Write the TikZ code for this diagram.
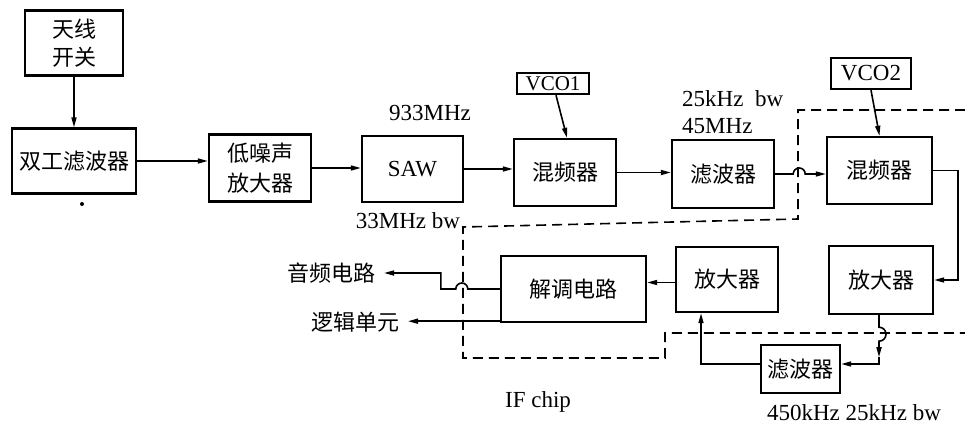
\documentclass[tikz,border=0pt]{standalone}
\usepackage{fontspec}
\setmainfont{Liberation Serif}
\newfontfamily\cjk{Noto Sans CJK SC}
\usetikzlibrary{arrows.meta,calc}
\begin{document}
\begin{tikzpicture}[x=1pt,y=-1pt,
  box/.style={draw,line width=2.4pt,inner sep=0pt,align=center,font=\cjk\fontsize{22}{28}\selectfont},
  arr/.style={line width=1.6pt,-{Triangle[length=10pt,width=5pt]}},
  ln/.style={line width=1.6pt},
  lat/.style={inner sep=0pt,font=\fontsize{23}{26}\selectfont},
  cj/.style={inner ysep=0pt,inner xsep=8pt,font=\cjk\fontsize{22}{26}\selectfont},
  bnd/.style={line width=1.6pt,dash pattern=on 10pt off 6pt}]
\useasboundingbox (0,0) rectangle (965,425);
% boxes
\node[box,minimum width=98pt,minimum height=65pt] (ant) at (74,43) {天线\\开关};
\node[box,minimum width=124pt,minimum height=65pt] (dup) at (74,161) {双工滤波器};
\node[box,minimum width=102pt,minimum height=67pt,font=\cjk\fontsize{22}{30}\selectfont] (lna) at (260,168) {低噪声\\放大器};
\node[box,minimum width=101pt,minimum height=66pt,font=\fontsize{23}{26}\selectfont] (saw) at (412.5,169) {SAW};
\node[box,minimum width=102pt,minimum height=67pt] (mix1) at (565,172.5) {混频器};
\node[box,minimum width=72pt,minimum height=21pt,font=\fontsize{21}{22}\selectfont] (vco1) at (553,83.5) {VCO1};
\node[box,minimum width=102pt,minimum height=68pt] (flt1) at (723,174) {滤波器};
\node[box,minimum width=80pt,minimum height=31pt,font=\fontsize{23}{24}\selectfont] (vco2) at (871,73.5) {VCO2};
\node[box,minimum width=105pt,minimum height=67pt] (mix2) at (879.5,170.5) {混频器};
\node[box,minimum width=104pt,minimum height=68pt] (amp2) at (881,280) {放大器};
\node[box,minimum width=102pt,minimum height=65pt] (amp1) at (727,279.5) {放大器};
\node[box,minimum width=145pt,minimum height=66pt] (dem) at (573.5,289) {解调电路};
\node[box,minimum width=79pt,minimum height=48pt] (flt2) at (800.5,369) {滤波器};
% text labels
\node[cj,anchor=east] (aud) at (384,273) {音频电路};
\node[cj,anchor=east] (logic) at (408,322) {逻辑单元};
\node[lat] (f933) at (430,113) {933MHz};
\node[lat] (f33) at (408,221) {33MHz bw};
\node[lat,anchor=west] (f25) at (682,99) {25kHz\hspace{0.5em}bw};
\node[lat,anchor=west] (f45) at (682,126) {45MHz};
\node[lat] (ifc) at (538,402) {IF chip};
\node[lat] (f450) at (854,413) {450kHz 25kHz bw};
% IF chip boundary
\draw[bnd] (965,110) -- (798,110) -- (798,219) -- (463,227) -- (463,358) -- (665,358) -- (665,333) -- (965,333);
% connectors
\draw[arr] (ant) -- (dup);
\draw[arr] (dup.east) -- (dup.east -| lna.west);
\draw[arr] (lna.east) -- (lna.east -| saw.west);
\draw[arr] (saw.east) -- (saw.east -| mix1.west);
\draw[arr] (mix1.east) -- (mix1.east -| flt1.west);
\draw[arr] (flt1.east) -- ++(18,0) arc[start angle=180,end angle=360,radius=6] -- (flt1.east -| mix2.west);
\draw[arr] ($(vco1.south)+(3,0)$) -- ($(mix1.north)+(2,0)$);
\draw[arr] (vco2.south) -- (mix2.north);
\draw[arr] (mix2.east) -- ++(25,0) |- (amp2.east);
\draw[arr] ($(amp2.south)+(-2,0)$) -- ++(0,12) arc[start angle=-90,end angle=90,radius=7] -- ++(0,16) coordinate (mid);
\coordinate (f2e) at ($(flt2.east)+(0,-5)$);
\draw[arr] (mid) |- (f2e);
\coordinate (f2w) at ($(flt2.west)+(0,-5)$);
\draw[arr] (f2w) -| ($(amp1.south)+(-26,0)$);
\coordinate (a1) at ($(amp1.west)+(0,3)$);
\draw[arr] (a1) -- (a1 -| dem.east);
\draw[arr] (dem.west) -- ++(-32,0) arc[start angle=0,end angle=-180,radius=6] -- ++(-15,0) |- (aud.east);
\coordinate (d1) at ($(dem.south west)+(0,-2)$);
\draw[arr] (d1) -- (d1 -| logic.east);
\fill (82,204) circle (2);
\end{tikzpicture}
\end{document}
